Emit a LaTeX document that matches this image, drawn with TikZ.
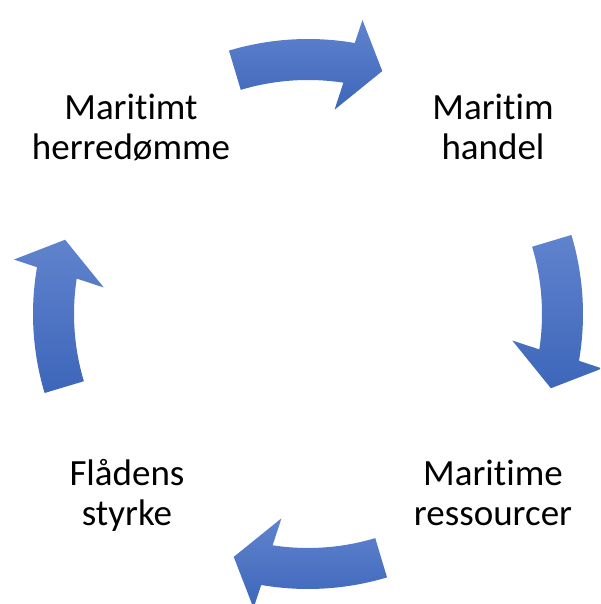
\documentclass[tikz,border=0pt]{standalone}
\usepackage{fontspec}
\setmainfont{Carlito}[Ligatures={NoCommon,NoRare}]
\begin{document}
\begin{tikzpicture}[x=1pt,y=1pt,
  lbl/.style={font=\fontsize{37}{40}\selectfont, align=center, anchor=base, inner sep=0pt, text=black},
  cyclearrow/.style={top color={rgb,255:red,96;green,131;blue,205}, bottom color={rgb,255:red,61;green,102;blue,186}, draw=none}]
\clip (0,0) rectangle (600,604);
\useasboundingbox (0,0) rectangle (600,604);
\coordinate (C) at (308,290);
\node[lbl] (herre) at (131,444) {Maritimt\\herredømme};
\node[lbl] (handel) at (493,444) {Maritim\\handel};
\node[lbl] (ress) at (493,78) {Maritime\\ressourcer};
\node[lbl] (flaade) at (127,78) {Flådens\\styrke};
\foreach \a in {90,0,-90,180}{
  \begin{scope}[shift={(C)}]
  \path[cyclearrow] (\a+16.7:275) arc[start angle=\a+16.7, end angle=\a-9.8, radius=275]
     -- (\a-10.5:299) -- (\a-17:254) -- (\a-7.4:206) -- (\a-8.7:234)
     arc[start angle=\a-8.7, end angle=\a+16.7, radius=234] -- cycle;
  \end{scope}
}
\end{tikzpicture}
\end{document}
